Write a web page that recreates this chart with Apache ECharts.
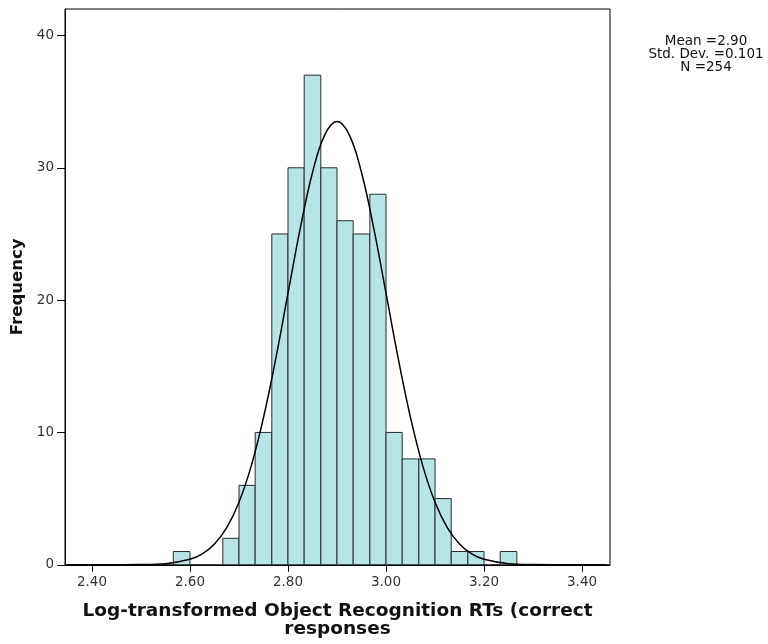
<!DOCTYPE html>
<html><head><meta charset="utf-8">
<script src="https://cdn.jsdelivr.net/npm/echarts@6/dist/echarts.min.js"></script>
<style>html,body{margin:0;padding:0;background:#fff}#c{width:768px;height:644px}</style>
</head><body><div id="c"></div>
<script>
// Histogram bin left/right edges
var binLeft  = [2.566,2.600,2.633,2.667,2.700,2.733,2.767,2.800,2.833,2.867,2.900,2.933,2.967,3.000,3.033,3.067,3.100,3.133,3.167,3.200,3.233];
var binRight = [2.600,2.633,2.667,2.700,2.733,2.767,2.800,2.833,2.867,2.900,2.933,2.967,3.000,3.033,3.067,3.100,3.133,3.167,3.200,3.233,3.267];
var counts   = [1,0,0,2,6,10,25,30,37,30,26,25,28,10,8,8,5,1,1,0,1];
// Normal curve points
var curveX = [2.35,2.40,2.45,2.50,2.55,2.60,2.625,2.65,2.675,2.70,2.725,2.75,2.775,2.80,2.825,2.85,2.875,2.90,2.925,2.95,2.975,3.00,3.025,3.05,3.075,3.10,3.125,3.15,3.175,3.20,3.25,3.30,3.35,3.40,3.45];
var curveY = [0.0,0.0,0.002,0.013,0.083,0.41,0.82,1.57,2.80,4.72,7.47,11.12,15.57,20.52,25.42,29.64,32.49,33.5,32.49,29.64,25.42,20.52,15.57,11.12,7.47,4.72,2.80,1.57,0.82,0.41,0.083,0.013,0.002,0.0,0.0];
var xTicks = [2.4,2.6,2.8,3.0,3.2,3.4];
var yTicks = [0,10,20,30,40];
var statLines = ['Mean =2.90','Std. Dev. =0.101','N =254'];
var xTitle = 'Log-transformed Object Recognition RTs (correct\nresponses';
var yTitle = 'Frequency';

var histData = binLeft.map(function(l,i){return [l, binRight[i], counts[i]];});
var curveData = curveX.map(function(x,i){return [x, curveY[i]];});

var chart = echarts.init(document.getElementById('c'), null, {renderer:'canvas'});
var tickFont = {fontFamily:'DejaVu Sans', fontSize:13.5, color:'#333'};
chart.setOption({
  animation:false,
  backgroundColor:'#fff',
  grid:{left:65, right:158, top:9, bottom:79, show:true, borderColor:'#000', borderWidth:1, backgroundColor:'#fff'},
  xAxis:{type:'value', min:2.345, max:3.457,
    name:xTitle, nameLocation:'middle', nameGap:37,
    nameTextStyle:{fontFamily:'DejaVu Sans', fontWeight:'bold', fontSize:18.5, color:'#111', lineHeight:18.5},
    axisLine:{show:true, onZero:false, lineStyle:{color:'#000', width:1}},
    axisTick:{show:true, length:7, customValues:xTicks, lineStyle:{color:'#000'}},
    axisLabel:Object.assign({customValues:xTicks, margin:11, formatter:function(v){return v.toFixed(2);}}, tickFont),
    splitLine:{show:false}},
  yAxis:{type:'value', min:0, max:42,
    name:yTitle, nameLocation:'middle', nameGap:37,
    nameTextStyle:{fontFamily:'DejaVu Sans', fontWeight:'bold', fontSize:16.5, color:'#111'},
    axisLine:{show:true, lineStyle:{color:'#000', width:1}},
    axisTick:{show:true, length:8, customValues:yTicks, lineStyle:{color:'#000'}},
    axisLabel:Object.assign({customValues:yTicks, margin:11, formatter:function(v){return String(v);}}, tickFont),
    splitLine:{show:false}},
  graphic:[{type:'text', x:706, y:35, style:{text:statLines.join('\n'), textAlign:'center', textVerticalAlign:'top', fontFamily:'DejaVu Sans', fontSize:13.5, lineHeight:13, fill:'#111'}}],
  series:[
    {type:'custom', data:histData, encode:{x:[0,1], y:2}, z:2,
     renderItem:function(params, api){
       var c = api.value(2);
       if (!c) return null;
       var p0 = api.coord([api.value(0), c]);
       var p1 = api.coord([api.value(1), 0]);
       return {type:'rect', shape:{x:p0[0], y:p0[1], width:p1[0]-p0[0], height:p1[1]-p0[1]},
         style:{fill:'#b6e5e6', stroke:'#2a2a2a', lineWidth:1}};
     }},
    {type:'line', data:curveData, smooth:0.4, showSymbol:false, symbol:'none', z:3,
     lineStyle:{color:'#000', width:1.5}}
  ]
});
</script></body></html>
